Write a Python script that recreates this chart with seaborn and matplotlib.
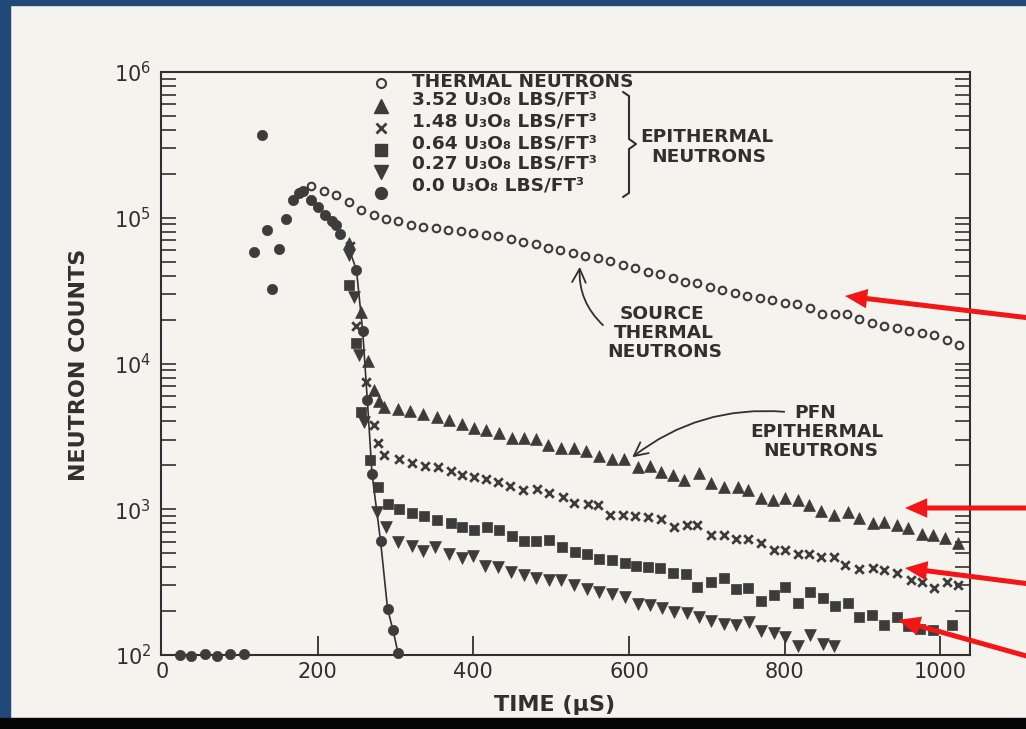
import matplotlib
matplotlib.use("Agg")
import matplotlib.pyplot as plt
import seaborn as sns
from matplotlib.patches import FancyArrowPatch, Rectangle
from matplotlib.lines import Line2D
from matplotlib.ticker import LogLocator, NullFormatter, NullLocator

# ---------------- data ----------------
thermal_t = [192, 208, 224, 240, 256, 272, 288, 304, 320, 336, 352, 368, 384, 400, 416, 432, 448,
             464, 480, 496, 512, 528, 544, 560, 576, 592, 608, 624, 640, 656, 672, 688, 704, 720,
             736, 752, 768, 784, 800, 816, 832, 848, 864, 880, 896, 912, 928, 944, 960, 976, 992,
             1008, 1024]
thermal_counts = [1.65e5, 1.53e5, 1.43e5, 1.28e5, 1.13e5, 1.045e5, 9.8e4, 9.5e4, 8.9e4, 8.65e4,
                  8.5e4, 8.2e4, 8.1e4, 7.85e4, 7.6e4, 7.5e4, 7.15e4, 6.8e4, 6.6e4, 6.2e4,
                  6.0e4, 5.7e4, 5.5e4, 5.3e4, 5.05e4, 4.75e4, 4.5e4, 4.25e4, 4.1e4, 3.85e4,
                  3.6e4, 3.55e4, 3.35e4, 3.2e4, 3.05e4, 2.9e4, 2.8e4, 2.73e4, 2.6e4, 2.56e4,
                  2.4e4, 2.2e4, 2.19e4, 2.18e4, 2.02e4, 1.9e4, 1.81e4, 1.75e4, 1.67e4, 1.62e4,
                  1.57e4, 1.45e4, 1.34e4]

u352_t = [240, 256, 265, 272, 279, 286, 304, 319, 336, 353, 369, 385, 401, 417, 433, 450, 465,
          481, 496, 513, 529, 545, 562, 578, 594, 612, 627, 641, 656, 671, 690, 705, 722, 740,
          753, 769, 785, 800, 817, 831, 847, 863, 881, 896, 913, 927, 944, 959, 976, 991, 1006, 1022]
u352_counts = [6.7e4, 2.25e4, 1.04e4, 6.6e3, 5.5e3, 5.0e3, 4.9e3, 4.72e3, 4.5e3, 4.3e3,
               4.1e3, 3.85e3, 3.6e3, 3.5e3, 3.33e3, 3.08e3, 3.1e3, 3.03e3, 2.76e3, 2.63e3,
               2.65e3, 2.51e3, 2.32e3, 2.21e3, 2.2e3, 1.95e3, 1.98e3, 1.8e3, 1.72e3, 1.59e3,
               1.77e3, 1.51e3, 1.42e3, 1.43e3, 1.36e3, 1.19e3, 1.16e3, 1.19e3, 1.16e3, 1.07e3,
               973, 914, 957, 871, 805, 818, 780, 743, 676, 665, 635, 587]

u148_t = [242, 249, 262, 273, 278, 286, 305, 322, 338, 355, 371, 386, 401, 417, 432, 447, 464,
          482, 497, 515, 529, 547, 560, 576, 592, 608, 624, 641, 658, 674, 688, 705, 722, 737,
          753, 769, 786, 801, 817, 831, 847, 863, 878, 895, 913, 927, 944, 962, 976, 992, 1009, 1022]
u148_counts = [6.4e4, 1.81e4, 7.5e3, 3.79e3, 2.85e3, 2.36e3, 2.21e3, 2.07e3, 1.98e3, 1.95e3,
               1.83e3, 1.72e3, 1.66e3, 1.61e3, 1.54e3, 1.45e3, 1.36e3, 1.38e3, 1.29e3, 1.21e3,
               1.10e3, 1.09e3, 1.07e3, 920, 912, 905, 885, 857, 755, 780,
               778, 665, 668, 625, 622, 587, 525, 528, 493, 490,
               470, 468, 414, 389, 395, 383, 365, 327, 317, 288, 317, 302]

u064_t = [240, 249, 256, 267, 278, 291, 305, 321, 337, 353, 371, 386, 401, 418, 433, 450, 465,
          481, 497, 514, 531, 546, 562, 578, 595, 609, 624, 640, 656, 673, 688, 705, 722, 737,
          753, 769, 786, 801, 817, 833, 849, 864, 881, 895, 912, 927, 944, 959, 974, 991, 1015]
u064_counts = [3.46e4, 1.38e4, 4.65e3, 2.18e3, 1.42e3, 1.09e3, 1.0e3, 942, 899, 844,
               805, 755, 721, 755, 721, 655, 605, 605, 615, 551,
               509, 493, 456, 449, 428, 408, 402, 395, 365, 360,
               293, 317, 337, 284, 288, 235, 258, 293, 227, 270,
               246, 217, 227, 182, 188, 161, 182, 158, 150, 148, 161]

u027_t = [240, 247, 253, 260, 277, 288, 304, 321, 336, 351, 369, 385, 400, 415, 432, 449, 465,
          481, 497, 513, 529, 546, 562, 578, 595, 612, 627, 642, 658, 674, 690, 706, 722, 738,
          754, 769, 786, 801, 817, 832, 849, 863]
u027_counts = [5.55e4, 2.86e4, 1.14e4, 3.97e3, 957, 755, 596, 560, 517, 551,
               493, 463, 478, 408, 402, 371, 354, 337, 327, 327,
               302, 284, 270, 262, 250, 224, 220, 210, 197, 194,
               182, 171, 163, 161, 168, 146, 142, 133, 115, 137, 119, 115]

u000_t = [24, 37, 55, 71, 88, 105, 119, 129, 135, 142, 150, 159, 168, 176, 182, 192, 201, 210,
          218, 224, 229, 250, 258, 264, 270, 281, 290, 297, 304]
u000_counts = [100, 98, 102, 99, 101, 101, 5.8e4, 3.7e5, 8.2e4, 3.25e4, 6.1e4, 9.8e4, 1.32e5,
               1.48e5, 1.53e5, 1.32e5, 1.19e5, 1.04e5, 9.5e4, 8.9e4, 7.7e4, 4.4e4, 1.67e4,
               5.6e3, 1.75e3, 605, 207, 148, 103]

fit_t = [244, 250, 258, 264, 270, 281, 290, 297, 304]
fit_counts = [5.4e4, 4.4e4, 1.67e4, 5.6e3, 1.75e3, 605, 207, 148, 100]

x_ticks = [0, 200, 400, 600, 800, 1000]
x_tick_labels = ["0", "200", "400", "600", "800", "1000"]
y_ticks = [1e2, 1e3, 1e4, 1e5, 1e6]
y_tick_labels = ["$10^{2}$", "$10^{3}$", "$10^{4}$", "$10^{5}$", "$10^{6}$"]

legend_labels = ["THERMAL NEUTRONS",
                 "3.52 U\u2083O\u2088 LBS/FT\u00b3",
                 "1.48 U\u2083O\u2088 LBS/FT\u00b3",
                 "0.64 U\u2083O\u2088 LBS/FT\u00b3",
                 "0.27 U\u2083O\u2088 LBS/FT\u00b3",
                 "0.0 U\u2083O\u2088 LBS/FT\u00b3"]

# ---------------- style ----------------
sns.set_theme(style="ticks")
plt.rcParams['font.family'] = ['DejaVu Sans']
plt.rcParams['mathtext.default'] = 'regular'

PAPER = '#f4f3ee'
INK = '#303030'
MK = '#3c3c3c'
BLUE = '#23487a'
RED = '#f21616'

W, H = 1026, 729
def F(px, py):
    return (px / W, 1 - py / H)

fig = plt.figure(figsize=(W / 100, H / 100), dpi=100, facecolor=PAPER)
ax = fig.add_axes([161 / W, 1 - 655 / H, (970 - 161) / W, (655 - 72) / H])
ax.set_facecolor(PAPER)

# ---------------- marks ----------------
sns.lineplot(x=fit_t, y=fit_counts, ax=ax, color=INK, lw=1.2, sort=False, estimator=None, zorder=2)
sns.scatterplot(x=u064_t, y=u064_counts, ax=ax, marker='s', s=48, color=MK, edgecolor=MK,
                linewidth=0.5, clip_on=False, zorder=3)
sns.scatterplot(x=u027_t, y=u027_counts, ax=ax, marker='v', s=72, color=MK, edgecolor=MK,
                linewidth=0.5, clip_on=False, zorder=3)
sns.scatterplot(x=u148_t, y=u148_counts, ax=ax, marker='x', s=38, color=MK, linewidth=2.0,
                clip_on=False, zorder=3)
sns.scatterplot(x=u352_t, y=u352_counts, ax=ax, marker='^', s=72, color=MK, edgecolor=MK,
                linewidth=0.5, clip_on=False, zorder=3)
sns.scatterplot(x=u000_t, y=u000_counts, ax=ax, marker='o', s=55, color=MK, edgecolor=MK,
                linewidth=0.5, clip_on=False, zorder=4)
sns.scatterplot(x=thermal_t, y=thermal_counts, ax=ax, marker='o', s=30, color=PAPER,
                edgecolor=MK, linewidth=1.5, clip_on=False, zorder=5)

# ---------------- axes ----------------
ax.set_yscale('log')
ax.set_xlim(-1, 1038)
ax.set_ylim(1e2, 1e6)
ax.set_xticks(x_ticks, labels=x_tick_labels)
ax.set_yticks(y_ticks, labels=y_tick_labels)
ax.yaxis.set_minor_locator(LogLocator(base=10, subs=range(2, 10)))
ax.yaxis.set_minor_formatter(NullFormatter())
ax.xaxis.set_minor_locator(NullLocator())
ax.tick_params(axis='x', which='both', direction='in', bottom=True, top=False, length=14,
               width=1.3, color=INK, labelcolor=INK, labelsize=15, pad=5)
ax.tick_params(axis='y', which='both', direction='in', left=True, right=True, length=11,
               width=1.2, color=INK, labelcolor=INK, labelsize=15, pad=7)
ax.xaxis.get_major_ticks()[0].tick1line.set_visible(False)
for sp in ax.spines.values():
    sp.set_visible(True)
    sp.set_color(INK)
    sp.set_linewidth(1.5)

ax.set_ylabel("NEUTRON COUNTS", fontsize=16, fontweight='bold', color=INK)
ax.yaxis.set_label_coords((89 - 161) / 809, 0.497)
ax.set_xlabel("TIME (\u03bcS)", fontsize=16, fontweight='bold', color=INK)
ax.xaxis.set_label_coords((555 - 161) / 809, -0.068)

# ---------------- legend (drawn by hand) ----------------
leg_markers = [dict(marker='o', ms=6.5, mfc=PAPER, mec=MK, mew=1.5),
               dict(marker='^', ms=10, mfc=MK, mec=MK),
               dict(marker='x', ms=7, mfc=MK, mec=MK, mew=2.0),
               dict(marker='s', ms=8, mfc=MK, mec=MK),
               dict(marker='v', ms=10, mfc=MK, mec=MK),
               dict(marker='o', ms=8.5, mfc=MK, mec=MK)]
marker_y = [83, 106, 128, 150, 172, 193]
text_base = [87, 104, 126, 148, 169, 190]
for mk, my, tb, lab in zip(leg_markers, marker_y, text_base, legend_labels):
    fig.add_artist(Line2D([381 / W], [1 - my / H], transform=fig.transFigure, ls='none', **mk))
    fig.text(*F(412, tb), lab, fontsize=13.3, fontweight='bold', color=INK, ha='left', va='baseline')

# brace
bx = [623, 629, 629, 636, 629, 629, 623]
by = [92, 96, 139, 144, 149, 193, 197]
fig.add_artist(Line2D([x / W for x in bx], [1 - y / H for y in by], transform=fig.transFigure,
                      color=INK, lw=1.5, solid_joinstyle='round'))
fig.text(*F(707, 137), "EPITHERMAL", fontsize=13.3, fontweight='bold', color=INK, ha='center', va='center')
fig.text(*F(709, 157), "NEUTRONS", fontsize=13.3, fontweight='bold', color=INK, ha='center', va='center')

# ---------------- annotations ----------------
for txt, x, y in [("SOURCE", 662, 314), ("THERMAL", 664, 333), ("NEUTRONS", 665, 352),
                  ("PFN", 815, 413), ("EPITHERMAL", 817, 432), ("NEUTRONS", 821, 451)]:
    fig.text(*F(x, y), txt, fontsize=13.3, fontweight='bold', color=INK, ha='center', va='center')

a1 = FancyArrowPatch(F(605, 327), F(580, 264), transform=fig.transFigure,
                     connectionstyle="arc3,rad=-0.25", arrowstyle="->,head_length=0.7,head_width=0.35",
                     mutation_scale=14, color=INK, lw=1.3)
fig.add_artist(a1)
a2 = FancyArrowPatch(F(787, 412), F(630, 459), transform=fig.transFigure,
                     connectionstyle="arc3,rad=0.2", arrowstyle="->,head_length=0.7,head_width=0.35",
                     mutation_scale=14, color=INK, lw=1.3)
fig.add_artist(a2)

# ---------------- red arrows ----------------
for tail, tip in [((1030, 318), (845, 296)), ((1030, 508), (905, 508)),
                  ((1030, 584), (905, 568)), ((1030, 657), (898, 620))]:
    arr = FancyArrowPatch(F(*tail), F(*tip), transform=fig.transFigure,
                          arrowstyle="simple,head_length=1.6,head_width=1.4,tail_width=0.36",
                          mutation_scale=10, color=RED, lw=0, shrinkA=0, shrinkB=0, zorder=10)
    fig.add_artist(arr)

# ---------------- frame of the slide ----------------
fig.add_artist(Rectangle((0, 0), 10 / W, 1, transform=fig.transFigure, color=BLUE, zorder=20))
fig.add_artist(Rectangle((0, 1 - 5 / H), 1, 5 / H, transform=fig.transFigure, color=BLUE, zorder=20))
fig.add_artist(Rectangle((0, 0), 1, 11 / H, transform=fig.transFigure, color='#050505', zorder=21))

fig.savefig("out.png", dpi=100, facecolor=PAPER)
